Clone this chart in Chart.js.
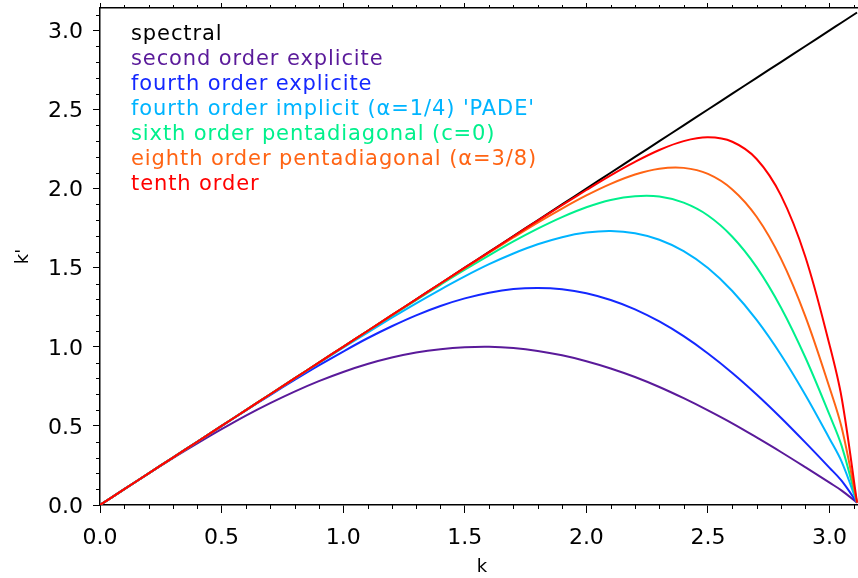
<!DOCTYPE html>
<html>
<head>
<meta charset="utf-8">
<script src="https://cdn.jsdelivr.net/npm/chart.js@4"></script>
<style>
html,body{margin:0;padding:0;overflow:hidden;background:#ffffff;}
#wrap{width:870px;height:578px;position:relative;}
</style>
</head>
<body>
<div id="wrap"><canvas id="c"></canvas></div>
<script>
// ---- data ----
const kValues      = [0,0.1,0.2,0.3,0.4,0.5,0.6,0.7,0.8,0.9,1.0,1.1,1.2,1.3,1.4,1.5,1.6,1.7,1.8,1.9,2.0,2.1,2.2,2.3,2.4,2.5,2.6,2.7,2.8,2.9,3.0,3.05,3.113];
const spectral     = [0,0.1,0.2,0.3,0.4,0.5,0.6,0.7,0.8,0.9,1.0,1.1,1.2,1.3,1.4,1.5,1.6,1.7,1.8,1.9,2.0,2.1,2.2,2.3,2.4,2.5,2.6,2.7,2.8,2.9,3.0,3.05,3.113];
const secondOrder  = [0,0.100,0.199,0.296,0.389,0.479,0.565,0.644,0.717,0.783,0.841,0.891,0.932,0.964,0.985,0.997,1.000,0.992,0.974,0.946,0.909,0.863,0.809,0.746,0.675,0.598,0.516,0.427,0.335,0.239,0.141,0.091,0.015];
const fourthExpl   = [0,0.100,0.200,0.300,0.400,0.499,0.598,0.695,0.790,0.882,0.970,1.054,1.130,1.199,1.258,1.306,1.342,1.365,1.372,1.364,1.339,1.296,1.237,1.160,1.067,0.958,0.835,0.699,0.552,0.396,0.235,0.152,0.015];
const fourthPade   = [0,0.100,0.200,0.300,0.400,0.500,0.600,0.699,0.798,0.896,0.994,1.090,1.184,1.275,1.362,1.445,1.522,1.590,1.648,1.693,1.722,1.732,1.718,1.677,1.605,1.498,1.353,1.170,0.950,0.697,0.419,0.273,0.015];
const sixthPenta   = [0,0.100,0.200,0.300,0.400,0.500,0.600,0.700,0.800,0.900,0.999,1.099,1.197,1.295,1.392,1.487,1.578,1.666,1.747,1.820,1.882,1.928,1.952,1.950,1.911,1.830,1.696,1.504,1.249,0.934,0.569,0.372,0.015];
const eighthPenta  = [0,0.100,0.200,0.300,0.400,0.500,0.600,0.700,0.800,0.900,1.000,1.100,1.200,1.299,1.399,1.497,1.595,1.691,1.785,1.874,1.957,2.030,2.089,2.126,2.131,2.093,1.995,1.822,1.557,1.194,0.741,0.488,0.015];
const tenthOrder   = [0,0.100,0.200,0.300,0.400,0.500,0.600,0.700,0.800,0.900,1.000,1.100,1.200,1.300,1.400,1.500,1.599,1.699,1.798,1.895,1.991,2.084,2.169,2.244,2.300,2.324,2.296,2.187,1.957,1.571,1.011,0.675,0.015];

const seriesLabels = ["spectral","second order explicite","fourth order explicite","fourth order implicit (\u03b1=1/4) 'PADE'","sixth order pentadiagonal (c=0)","eighth order pentadiagonal (\u03b1=3/8)","tenth order"];
const seriesColors = ["#000000","#5a1a9a","#1428ff","#00b4ff","#00f08c","#ff6414","#ff0000"];
const seriesValues = [spectral,secondOrder,fourthExpl,fourthPade,sixthPenta,eighthPenta,tenthOrder];

const majorTicks = [0,0.5,1.0,1.5,2.0,2.5,3.0];
const tickLabels = ["0.0","0.5","1.0","1.5","2.0","2.5","3.0"];
const minorTicks = [0.1,0.2,0.3,0.4,0.6,0.7,0.8,0.9,1.1,1.2,1.3,1.4,1.6,1.7,1.8,1.9,2.1,2.2,2.3,2.4,2.6,2.7,2.8,2.9,3.1];
const axisMin = 0, axisMax = Math.PI;

// ---- chart ----
const FONT = "'DejaVu Sans', sans-serif";
Chart.defaults.font.family = FONT;
Chart.defaults.color = "#000";

function setMajor(scale){ scale.ticks = majorTicks.map(v => ({value: v})); }
function fmt(v){ const i = majorTicks.indexOf(v); return i >= 0 ? tickLabels[i] : ""; }

const minorTickPlugin = {
  id: "minorTicks",
  afterDraw(chart){
    const ctx = chart.ctx, xs = chart.scales.x, xt = chart.scales.xTop, ys = chart.scales.y;
    ctx.save();
    ctx.strokeStyle = "#000"; ctx.lineWidth = 1;
    minorTicks.forEach(v => {
      const px = Math.round(xs.getPixelForValue(v)) + 0.5;
      ctx.beginPath(); ctx.moveTo(px, xs.top); ctx.lineTo(px, xs.top + 4); ctx.stroke();
      ctx.beginPath(); ctx.moveTo(px, xt.bottom); ctx.lineTo(px, xt.bottom - 3); ctx.stroke();
      const py = Math.round(ys.getPixelForValue(v)) + 0.5;
      ctx.beginPath(); ctx.moveTo(ys.right, py); ctx.lineTo(ys.right - 4, py); ctx.stroke();
    });
    ctx.restore();
  }
};

const legendPlugin = {
  id: "textLegend",
  afterDraw(chart){
    const ctx = chart.ctx, a = chart.chartArea;
    ctx.save();
    ctx.font = "21px " + FONT;
    try { ctx.letterSpacing = "0.9px"; } catch(e) {}
    ctx.textBaseline = "alphabetic";
    ctx.textAlign = "left";
    seriesLabels.forEach((t, i) => {
      ctx.fillStyle = seriesColors[i];
      ctx.fillText(t, a.left + 31, a.top + 32.2 + 25 * i);
    });
    ctx.restore();
  }
};

new Chart(document.getElementById("c"), {
  type: "line",
  data: {
    datasets: seriesValues.map((vals, i) => ({
      label: seriesLabels[i],
      data: kValues.map((k, j) => ({x: k, y: vals[j]})),
      borderColor: seriesColors[i],
      backgroundColor: seriesColors[i],
      borderWidth: 2,
      pointRadius: 0,
      fill: false,
      tension: 0.35,
      xAxisID: "x",
      yAxisID: "y",
      order: seriesLabels.length - 1 - i
    }))
  },
  options: {
    responsive: true,
    maintainAspectRatio: false,
    animation: false,
    layout: {padding: {left: 0, right: 6, top: 3, bottom: 0}},
    plugins: {legend: {display: false}, tooltip: {enabled: false}},
    scales: {
      x: {
        type: "linear", position: "bottom", min: axisMin, max: axisMax,
        afterBuildTicks: setMajor,
        afterFit(s){ s.height = 73; s.paddingLeft = 0; s.paddingRight = 0; },
        ticks: {callback: fmt, font: {size: 22}, color: "#000", padding: 12, autoSkip: false, maxRotation: 0, includeBounds: false},
        grid: {drawOnChartArea: false, drawTicks: true, tickLength: 8, tickColor: "#000", tickWidth: 1},
        border: {display: true, color: "#000", width: 1.5},
        title: {display: true, text: "k", font: {size: 18}, color: "#000", padding: {top: 0, bottom: 0}}
      },
      xTop: {
        type: "linear", position: "top", min: axisMin, max: axisMax,
        afterBuildTicks: setMajor,
        afterFit(s){ s.height = 5; s.paddingLeft = 0; s.paddingRight = 0; },
        ticks: {display: false, includeBounds: false},
        grid: {drawOnChartArea: false, drawTicks: true, tickLength: 5, tickColor: "#000", tickWidth: 1},
        border: {display: true, color: "#000", width: 1.5}
      },
      y: {
        type: "linear", position: "left", min: axisMin, max: axisMax,
        afterBuildTicks: setMajor,
        afterFit(s){ s.width = 100; s.paddingTop = 0; s.paddingBottom = 0; },
        ticks: {callback: fmt, font: {size: 22}, color: "#000", padding: 10, labelOffset: 2, autoSkip: false, includeBounds: false},
        grid: {drawOnChartArea: false, drawTicks: true, tickLength: 7, tickColor: "#000", tickWidth: 1},
        border: {display: true, color: "#000", width: 1.5},
        title: {display: true, text: "k'", font: {size: 18}, color: "#000", padding: {top: 13, bottom: 0}}
      }
    }
  },
  plugins: [minorTickPlugin, legendPlugin]
});
</script>
</body>
</html>
